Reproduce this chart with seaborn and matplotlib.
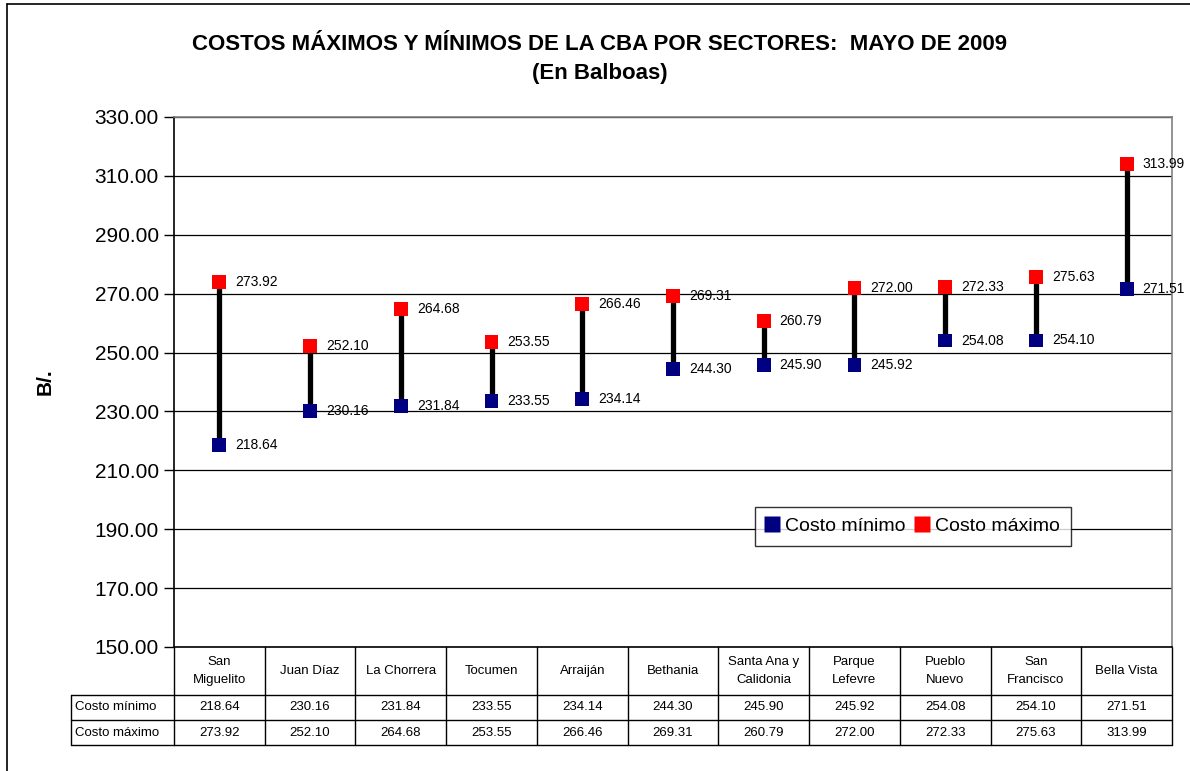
import matplotlib
matplotlib.use("Agg")
import matplotlib.pyplot as plt
import seaborn as sns
import pandas as pd
import numpy as np
from matplotlib.lines import Line2D

sectores = ["San\nMiguelito", "Juan Díaz", "La Chorrera", "Tocumen", "Arraiján",
            "Bethania", "Santa Ana y\nCalidonia", "Parque\nLefevre", "Pueblo\nNuevo",
            "San\nFrancisco", "Bella Vista"]
costo_minimo = [218.64, 230.16, 231.84, 233.55, 234.14, 244.30, 245.90, 245.92, 254.08, 254.10, 271.51]
costo_maximo = [273.92, 252.10, 264.68, 253.55, 266.46, 269.31, 260.79, 272.00, 272.33, 275.63, 313.99]
series_names = ["Costo mínimo", "Costo máximo"]
y_ticks = [150, 170, 190, 210, 230, 250, 270, 290, 310, 330]

sns.set_style("white")
plt.rcParams['font.family'] = ['Liberation Sans', 'DejaVu Sans']
plt.rcParams['text.color'] = 'black'
plt.rcParams['axes.labelcolor'] = 'black'
plt.rcParams['xtick.color'] = 'black'
plt.rcParams['ytick.color'] = 'black'

W, H = 1190, 771
fig = plt.figure(figsize=(W / 100, H / 100), dpi=100)

def fx(x):
    return x / W

def fy(y):
    return 1 - y / H

L, R, T, B = 174, 1172, 117, 647
ax = fig.add_axes([fx(L), fy(B), fx(R) - fx(L), fy(T) - fy(B)])

n = len(sectores)
xs = np.arange(n)
df = pd.DataFrame({
    "x": np.concatenate([xs, xs]),
    "valor": costo_minimo + costo_maximo,
    "serie": [series_names[0]] * n + [series_names[1]] * n,
})

for yv in y_ticks:
    ax.axhline(yv, color="black", lw=0.9, zorder=0)

ax.vlines(xs, costo_minimo, costo_maximo, color="black", lw=3.8, zorder=2)
sns.scatterplot(data=df, x="x", y="valor", hue="serie", marker="s", s=100,
                palette={series_names[0]: "#000080", series_names[1]: "#FF0000"},
                edgecolor="none", linewidth=0, ax=ax, zorder=3, legend=False)

for i in range(n):
    ax.annotate(f"{costo_minimo[i]:.2f}", (xs[i], costo_minimo[i]), xytext=(11.5, 0),
                textcoords="offset points", va="center", ha="left", fontsize=10)
    ax.annotate(f"{costo_maximo[i]:.2f}", (xs[i], costo_maximo[i]), xytext=(11.5, 0),
                textcoords="offset points", va="center", ha="left", fontsize=10)

ax.set_xlim(-0.5, n - 0.5)
ax.set_ylim(150, 330)
ax.set_yticks(y_ticks)
ax.set_yticklabels([f"{v:.2f}" for v in y_ticks], fontsize=15)
ax.set_xticks([])
ax.set_xlabel("")
ax.set_ylabel("")
ax.tick_params(axis="y", direction="out", length=7, width=1, color="black", pad=4, left=True)
for s in ["top", "right"]:
    ax.spines[s].set_color("#808080")
    ax.spines[s].set_linewidth(1.2)
ax.spines["left"].set_color("black")
ax.spines["bottom"].set_color("black")
ax.spines["left"].set_linewidth(1.2)
ax.spines["bottom"].set_linewidth(1.2)

# legend
handles = [Line2D([0], [0], marker="s", color="none", markerfacecolor=c, markeredgecolor="none",
                  markersize=11) for c in ["#000080", "#FF0000"]]
leg = fig.legend(handles, series_names, ncol=2, fontsize=14, loc="center",
                 bbox_to_anchor=(fx((752 + 1074) / 2), fy(526)), frameon=True, fancybox=False,
                 handlelength=0.6, handletextpad=0.4, columnspacing=0.5, borderpad=0.55)
leg.get_frame().set_edgecolor("black")
leg.get_frame().set_linewidth(1)

# data table below axes (x in data coords, y in axes fraction)
trans = ax.get_xaxis_transform()
ph = B - T
def ay(ypx):
    return -(ypx - B) / ph

row_hdr = (B, 695)
row1 = (695, 720)
row2 = (720, 745)
lw = 1.0
for b in np.arange(-0.5, n, 1.0):
    ax.plot([b, b], [ay(B), ay(745)], transform=trans, color="black", lw=lw, clip_on=False)
for yy in [695, 720, 745]:
    ax.plot([-0.5, n - 0.5], [ay(yy), ay(yy)], transform=trans, color="black", lw=lw, clip_on=False)
fig.add_artist(Line2D([fx(71), fx(L)], [fy(695), fy(695)], color="black", lw=lw))
fig.add_artist(Line2D([fx(71), fx(L)], [fy(720), fy(720)], color="black", lw=lw))
fig.add_artist(Line2D([fx(71), fx(L)], [fy(745), fy(745)], color="black", lw=lw))
fig.add_artist(Line2D([fx(71), fx(71)], [fy(695), fy(745)], color="black", lw=lw))

for i in range(n):
    ax.text(xs[i], ay(sum(row_hdr) / 2), sectores[i], transform=trans, ha="center", va="center",
            fontsize=9.5, linespacing=1.6)
    ax.text(xs[i], ay(sum(row1) / 2), f"{costo_minimo[i]:.2f}", transform=trans,
            ha="center", va="center", fontsize=9.5)
    ax.text(xs[i], ay(sum(row2) / 2), f"{costo_maximo[i]:.2f}", transform=trans,
            ha="center", va="center", fontsize=9.5)
fig.text(fx(75), fy(707.5), "Costo mínimo", ha="left", va="center", fontsize=9.5)
fig.text(fx(75), fy(732.5), "Costo máximo", ha="left", va="center", fontsize=9.5)

# titles
fig.text(fx(600), fy(45), "COSTOS MÁXIMOS Y MÍNIMOS DE LA CBA POR SECTORES:  MAYO DE 2009",
         ha="center", va="center", fontsize=16, fontweight="bold")
fig.text(fx(600), fy(73), "(En Balboas)", ha="center", va="center", fontsize=16, fontweight="bold")
fig.text(fx(45), fy(382), "B/.", ha="center", va="center", rotation=90, fontsize=15, fontweight="bold")

# outer chart border
fig.add_artist(Line2D([fx(7), fx(7)], [fy(4), 0], color="black", lw=1.2))
fig.add_artist(Line2D([fx(7), 1], [fy(4), fy(4)], color="black", lw=1.2))

fig.savefig("out.png", dpi=100, facecolor="white")
